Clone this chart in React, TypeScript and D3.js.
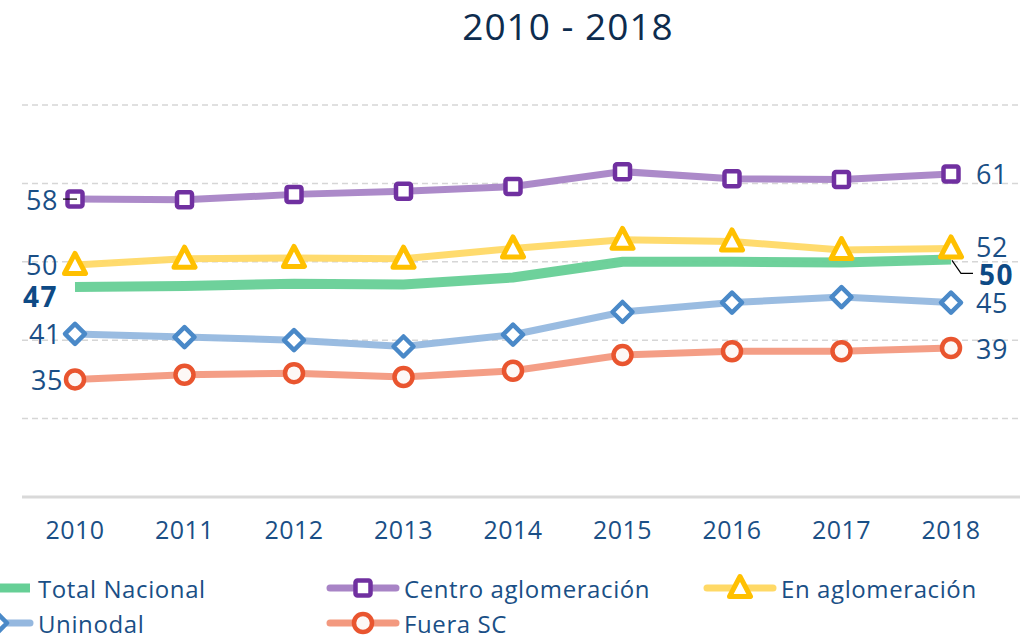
import React from "react";
import * as d3 from "d3";

const years = ["2010", "2011", "2012", "2013", "2014", "2015", "2016", "2017", "2018"];
const totalNacional = [46.8, 46.9, 47.2, 47.1, 48.0, 50.0, 50.0, 49.9, 50.3];
const centroAglomeracion = [58.0, 57.9, 58.6, 59.0, 59.6, 61.5, 60.6, 60.5, 61.2];
const enAglomeracion = [49.6, 50.4, 50.5, 50.4, 51.7, 52.8, 52.6, 51.5, 51.7];
const uninodal = [40.8, 40.4, 40.0, 39.2, 40.7, 43.6, 44.8, 45.5, 44.8];
const fueraSC = [35.0, 35.6, 35.8, 35.3, 36.1, 38.1, 38.6, 38.6, 39.0];
const yTicks = [20, 30, 40, 50, 60, 70];
const title = "2010 - 2018";

type Series = { name: string; values: number[]; line: string; marker: string; shape: string; width: number; bold?: boolean };

const series: Series[] = [
  { name: "Total Nacional", values: totalNacional, line: "#66cf96", marker: "#66cf96", shape: "none", width: 10, bold: true },
  { name: "Centro aglomeración", values: centroAglomeracion, line: "#a884c6", marker: "#7030a0", shape: "square", width: 7 },
  { name: "En aglomeración", values: enAglomeracion, line: "#ffd966", marker: "#ffc000", shape: "triangle", width: 7 },
  { name: "Uninodal", values: uninodal, line: "#95b8df", marker: "#4a89c8", shape: "diamond", width: 7 },
  { name: "Fuera SC", values: fueraSC, line: "#f3997f", marker: "#e9552f", shape: "circle", width: 7 },
];

const leftDy: Record<string, number> = { "Total Nacional": 9 };
const rightDy: Record<string, number> = { "Total Nacional": 15, "En aglomeración": -2 };

const W = 1033;
const H = 635;
const FONT = "'Open Sans', 'Noto Sans', sans-serif";

function Marker({ shape, x, y, color }: { shape: string; x: number; y: number; color: string }) {
  if (shape === "square") {
    return <rect x={x - 7.5} y={y - 7.5} width={15} height={15} rx={2} fill="#fff" stroke={color} strokeWidth={4.5} />;
  }
  if (shape === "triangle") {
    const s = 10.5;
    const p = `M${x},${y - s - 1} L${x + s},${y + s - 2} L${x - s},${y + s - 2} Z`;
    return <path d={p} fill="#fff" stroke={color} strokeWidth={5} strokeLinejoin="round" />;
  }
  if (shape === "diamond") {
    const s = 10;
    const p = `M${x},${y - s} L${x + s},${y} L${x},${y + s} L${x - s},${y} Z`;
    return <path d={p} fill="#fff" stroke={color} strokeWidth={4.5} strokeLinejoin="round" />;
  }
  if (shape === "circle") {
    return <circle cx={x} cy={y} r={9} fill="#fdf8f6" stroke={color} strokeWidth={4.5} />;
  }
  return null;
}

export default function App() {
  const x = d3.scalePoint<string>().domain(years).range([75, 951]);
  const y = d3.scaleLinear().domain([20, 70]).range([497, 105]);
  const line = d3
    .line<number>()
    .x((_, i) => x(years[i]) as number)
    .y((v) => y(v));

  const gridX0 = 22;
  const gridX1 = 1020;

  const legendCols = [-3, 363, 740];
  const legendRows = [588, 623];

  const x0 = x(years[0]) as number;
  const xN = x(years[years.length - 1]) as number;

  return (
    <svg width={W} height={H} style={{ position: "absolute", left: 0, top: 0, background: "#fff" }} fontFamily={FONT}>
      <text x={568} y={40} textAnchor="middle" fontSize={37} fill="#0d2c4e" fontWeight={500} letterSpacing={1}>
        {title}
      </text>

      {yTicks.map((t) =>
        t === 20 ? (
          <line key={t} x1={gridX0} x2={gridX1} y1={y(t)} y2={y(t)} stroke="#d9d9d9" strokeWidth={3} />
        ) : (
          <line key={t} x1={gridX0} x2={gridX1} y1={y(t)} y2={y(t)} stroke="#d6d6d6" strokeWidth={1.5} strokeDasharray="6 4" />
        )
      )}

      {years.map((yr) => (
        <text key={yr} x={x(yr)} y={539} textAnchor="middle" fontSize={25} fill="#1a4f86" letterSpacing={0.4}>
          {yr}
        </text>
      ))}

      {series.map((s) => (
        <path key={s.name} d={line(s.values) || ""} fill="none" stroke={s.line} strokeWidth={s.width} opacity={0.95} />
      ))}

      {series.map((s) =>
        s.values.map((v, i) => <Marker key={s.name + i} shape={s.shape} x={x(years[i]) as number} y={y(v)} color={s.marker} />)
      )}

      <line x1={63} x2={x0 + 2} y1={y(centroAglomeracion[0])} y2={y(centroAglomeracion[0])} stroke="#000" strokeWidth={1.2} />
      <polyline
        points={`${xN + 1},${y(totalNacional[8]) + 1} ${xN + 10},${y(totalNacional[8]) + 14} ${xN + 22},${y(totalNacional[8]) + 14}`}
        fill="none"
        stroke="#000"
        strokeWidth={1.2}
      />

      {series.map((s) => {
        const v0 = s.values[0];
        const vN = s.values[s.values.length - 1];
        return (
          <g
            key={s.name + "lbl"}
            fontSize={s.bold ? 28 : 27}
            fontWeight={s.bold ? 700 : 400}
            fill={s.bold ? "#0e4a85" : "#1a4f86"}
            letterSpacing={s.bold ? 1.5 : 0.6}
          >
            <text
              x={s.bold ? 58 : s.shape === "circle" ? 63 : s.shape === "diamond" ? 61 : 58}
              y={y(v0) + (leftDy[s.name] || 0)}
              textAnchor="end"
              dominantBaseline="central"
            >
              {Math.round(v0)}
            </text>
            <text x={s.bold ? 979 : 976} y={y(vN) + (rightDy[s.name] || 0)} textAnchor="start" dominantBaseline="central">
              {Math.round(vN)}
            </text>
          </g>
        );
      })}

      {series.map((s, i) => {
        const cx = legendCols[i % 3];
        const cy = legendRows[Math.floor(i / 3)];
        return (
          <g key={s.name + "leg"}>
            <line
              x1={cx - 33}
              x2={cx + 33}
              y1={cy}
              y2={cy}
              stroke={s.line}
              strokeWidth={s.shape === "none" ? 9 : 7}
              strokeLinecap={s.shape === "none" ? "butt" : "round"}
            />
            <Marker shape={s.shape} x={cx} y={cy} color={s.marker} />
            <text x={cx + 41} y={cy} dominantBaseline="central" fontSize={24} fill="#1a4f86" letterSpacing={0.6}>
              {s.name}
            </text>
          </g>
        );
      })}
    </svg>
  );
}
